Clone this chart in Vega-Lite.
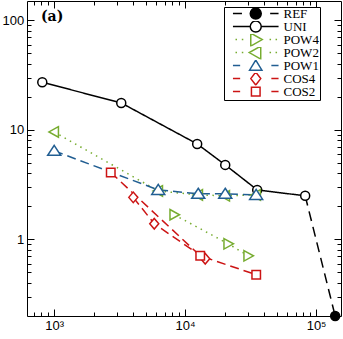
{
  "$schema": "https://vega.github.io/schema/vega-lite/v6.json",
  "width": 314,
  "height": 315,
  "autosize": {"type": "none"},
  "padding": {"left": 27, "top": 1, "right": 2, "bottom": 23},
  "background": "white",
  "config": {"view": {"stroke": null}},
  "title": {"text": "(a)", "anchor": "start", "frame": "group", "font": "DejaVu Serif", "fontWeight": "bold", "fontSize": 14, "baseline": "top", "dx": 14, "dy": 23, "offset": 0, "color": "black"},
  "data": {"values": [
    {"series": "REF", "n": 82560, "err": 2.50},
    {"series": "REF", "n": 139900, "err": 0.2},
    {"series": "UNI", "n": 811, "err": 27.2},
    {"series": "UNI", "n": 3252, "err": 17.6},
    {"series": "UNI", "n": 12360, "err": 7.44},
    {"series": "UNI", "n": 20240, "err": 4.79},
    {"series": "UNI", "n": 35520, "err": 2.83},
    {"series": "UNI", "n": 82560, "err": 2.50},
    {"series": "POW4", "n": 8256, "err": 1.68},
    {"series": "POW4", "n": 21330, "err": 0.912},
    {"series": "POW4", "n": 30310, "err": 0.709},
    {"series": "POW2", "n": 1000, "err": 9.57},
    {"series": "POW2", "n": 6232, "err": 2.77},
    {"series": "POW2", "n": 12590, "err": 2.55},
    {"series": "POW2", "n": 20240, "err": 2.50},
    {"series": "POW2", "n": 34860, "err": 2.55},
    {"series": "POW1", "n": 1000, "err": 6.43},
    {"series": "POW1", "n": 6232, "err": 2.83},
    {"series": "POW1", "n": 12590, "err": 2.61},
    {"series": "POW1", "n": 20240, "err": 2.61},
    {"series": "POW1", "n": 34860, "err": 2.55},
    {"series": "COS4", "n": 4017, "err": 2.42},
    {"series": "COS4", "n": 5810, "err": 1.39},
    {"series": "COS4", "n": 14240, "err": 0.666},
    {"series": "COS2", "n": 2704, "err": 4.09},
    {"series": "COS2", "n": 13040, "err": 0.709},
    {"series": "COS2", "n": 34900, "err": 0.476}
  ]},
  "layer": [
    {
      "mark": {"type": "line", "strokeWidth": 1.5},
      "encoding": {
        "x": {"field": "n", "type": "quantitative",
          "scale": {"type": "log", "domain": [620, 155000], "nice": false},
          "axis": {"orient": "bottom", "title": null, "grid": false,
            "values": [700, 800, 900, 1000, 2000, 3000, 4000, 5000, 6000, 7000, 8000, 9000, 10000, 20000, 30000, 40000, 50000, 60000, 70000, 80000, 90000, 100000],
            "labelExpr": "datum.value == 1000 ? '10³' : datum.value == 10000 ? '10⁴' : datum.value == 100000 ? '10⁵' : ''",
            "tickSize": {"condition": {"test": "indexof([1000, 10000, 100000], datum.value) >= 0", "value": -7}, "value": -4},
            "labelPadding": 10.5, "labelFont": "Liberation Sans", "labelFontSize": 13, "labelColor": "black",
            "tickColor": "black", "tickWidth": 1, "domainColor": "black", "domainWidth": 1,
            "labelOverlap": false, "labelFlush": false}},
        "y": {"field": "err", "type": "quantitative",
          "scale": {"type": "log", "domain": [0.2, 150], "nice": false},
          "axis": {"orient": "left", "title": null, "grid": false,
            "values": [0.3, 0.4, 0.5, 0.6, 0.7, 0.8, 0.9, 1, 2, 3, 4, 5, 6, 7, 8, 9, 10, 20, 30, 40, 50, 60, 70, 80, 90, 100],
            "labelExpr": "datum.value == 1 ? '1' : datum.value == 10 ? '10' : datum.value == 100 ? '100' : ''",
            "tickSize": {"condition": {"test": "indexof([1, 10, 100], datum.value) >= 0", "value": -7}, "value": -4},
            "labelPadding": 10.2, "labelFont": "Liberation Sans", "labelFontSize": 13, "labelColor": "black",
            "tickColor": "black", "tickWidth": 1, "domainColor": "black", "domainWidth": 1,
            "labelOverlap": false, "labelFlush": false}},
        "color": {"field": "series", "type": "nominal",
          "scale": {"domain": ["REF", "UNI", "POW4", "POW2", "POW1", "COS4", "COS2"],
            "range": ["#000000", "#000000", "#77AC30", "#77AC30", "#215E92", "#CC1414", "#CC1414"]},
          "legend": null},
        "strokeDash": {"field": "series", "type": "nominal",
          "scale": {"domain": ["REF", "UNI", "POW4", "POW2", "POW1", "COS4", "COS2"],
            "range": [[10, 6], [1, 0], [1.5, 4.5], [1.5, 4.5], [9, 5], [9, 5], [9, 5]]},
          "legend": null}
      }
    },
    {
      "transform": [{"filter": "datum.series != 'REF' || datum.n > 100000"}],
      "mark": {"type": "point", "size": 100, "strokeWidth": 1.5, "opacity": 1},
      "encoding": {
        "x": {"field": "n", "type": "quantitative",
          "axis": {"orient": "top", "title": null, "grid": false, "labels": false,
            "values": [700, 800, 900, 1000, 2000, 3000, 4000, 5000, 6000, 7000, 8000, 9000, 10000, 20000, 30000, 40000, 50000, 60000, 70000, 80000, 90000, 100000],
            "tickSize": {"condition": {"test": "indexof([1000, 10000, 100000], datum.value) >= 0", "value": -7}, "value": -4},
            "tickColor": "black", "tickWidth": 1, "domainColor": "black", "domainWidth": 1}},
        "y": {"field": "err", "type": "quantitative",
          "axis": {"orient": "right", "title": null, "grid": false, "labels": false,
            "values": [0.3, 0.4, 0.5, 0.6, 0.7, 0.8, 0.9, 1, 2, 3, 4, 5, 6, 7, 8, 9, 10, 20, 30, 40, 50, 60, 70, 80, 90, 100],
            "tickSize": {"condition": {"test": "indexof([1, 10, 100], datum.value) >= 0", "value": -7}, "value": -4},
            "tickColor": "black", "tickWidth": 1, "domainColor": "black", "domainWidth": 1}},
        "stroke": {"field": "series", "type": "nominal",
          "scale": {"domain": ["REF", "UNI", "POW4", "POW2", "POW1", "COS4", "COS2"],
            "range": ["#000000", "#000000", "#77AC30", "#77AC30", "#215E92", "#CC1414", "#CC1414"]},
          "legend": null},
        "fill": {"field": "series", "type": "nominal",
          "scale": {"domain": ["REF", "UNI", "POW4", "POW2", "POW1", "COS4", "COS2"],
            "range": ["#000000", "#ffffff", "#ffffff", "#ffffff", "#ffffff", "#ffffff", "#ffffff"]},
          "legend": null},
        "shape": {"field": "series", "type": "nominal",
          "scale": {"domain": ["REF", "UNI", "POW4", "POW2", "POW1", "COS4", "COS2"],
            "range": [
              "M-0.9,0C-0.9,-0.497,-0.497,-0.9,0,-0.9C0.497,-0.9,0.9,-0.497,0.9,0C0.9,0.497,0.497,0.9,0,0.9C-0.497,0.9,-0.9,0.497,-0.9,0Z",
              "M-0.9,0C-0.9,-0.497,-0.497,-0.9,0,-0.9C0.497,-0.9,0.9,-0.497,0.9,0C0.9,0.497,0.497,0.9,0,0.9C-0.497,0.9,-0.9,0.497,-0.9,0Z",
              "M-0.85,-1.05L1.05,0L-0.85,1.05Z",
              "M0.85,-1.05L-1.05,0L0.85,1.05Z",
              "M0,-1.1L1.3,0.9L-1.3,0.9Z",
              "M-0.9,0L0,-1.05L0.9,0L0,1.05Z",
              "M-0.85,-0.85L0.85,-0.85L0.85,0.85L-0.85,0.85Z"
            ]},
          "legend": null}
      }
    },
    {
      "transform": [{"filter": "false"}],
      "mark": {"type": "point", "strokeWidth": 1.5, "opacity": 1},
      "encoding": {
        "x": {"field": "n", "type": "quantitative", "axis": null},
        "y": {"field": "err", "type": "quantitative", "axis": null},
        "color": {"field": "series", "type": "nominal",
          "scale": {"domain": ["REF", "UNI", "POW4", "POW2", "POW1", "COS4", "COS2"],
            "range": ["#000000", "#000000", "#77AC30", "#77AC30", "#215E92", "#CC1414", "#CC1414"]},
          "legend": {"orient": "none", "legendX": 197, "legendY": 6, "title": null, "padding": 1, "rowPadding": -2, "clipHeight": 11.2,
            "symbolOffset": 23.75, "labelOffset": 20.75, "symbolSize": 144, "symbolStrokeWidth": 1.5, "symbolFillColor": "#ffffff",
            "labelFont": "Liberation Serif", "labelFontSize": 13, "labelColor": "black",
            "strokeColor": "black", "fillColor": "white", "labelExpr": "datum.label + '      '", "zindex": 1}},
        "fill": {"field": "series", "type": "nominal",
          "scale": {"domain": ["REF", "UNI", "POW4", "POW2", "POW1", "COS4", "COS2"],
            "range": ["#000000", "#ffffff", "#ffffff", "#ffffff", "#ffffff", "#ffffff", "#ffffff"]},
          "legend": {"orient": "none", "legendX": 197, "legendY": 6, "title": null, "padding": 1, "rowPadding": -2, "clipHeight": 11.2,
            "symbolOffset": 23.75, "labelOffset": 20.75, "symbolSize": 144, "symbolStrokeWidth": 1.5, "symbolFillColor": "#ffffff",
            "labelFont": "Liberation Serif", "labelFontSize": 13, "labelColor": "black",
            "strokeColor": "black", "fillColor": "white", "labelExpr": "datum.label + '      '", "zindex": 1}},
        "shape": {"field": "series", "type": "nominal",
          "scale": {"domain": ["REF", "UNI", "POW4", "POW2", "POW1", "COS4", "COS2"],
            "range": [
              "M-3.8,0L-2.3,0M2.4,0L3.8,0M-0.917,0C-0.917,-0.506,-0.506,-0.917,0,-0.917C0.506,-0.917,0.917,-0.506,0.917,0C0.917,0.506,0.506,0.917,0,0.917C-0.506,0.917,-0.917,0.506,-0.917,0Z",
              "M-3.8,0L-0.917,0M0.917,0L3.8,0M-0.917,0C-0.917,-0.506,-0.506,-0.917,0,-0.917C0.506,-0.917,0.917,-0.506,0.917,0C0.917,0.506,0.506,0.917,0,0.917C-0.506,0.917,-0.917,0.506,-0.917,0Z",
              "M-3.375,0L-3.125,0M-2.325,0L-2.075,0M2.3,0L2.55,0M3.3,0L3.55,0M-0.83,-1.08L1.08,0L-0.83,1.08Z",
              "M-3.375,0L-3.125,0M-2.325,0L-2.075,0M2.3,0L2.55,0M3.3,0L3.55,0M0.83,-1.08L-1.08,0L0.83,1.08Z",
              "M-3.8,0L-2.6,0M2.6,0L3.8,0M0,-0.92L1.03,0.77L-1.03,0.77Z",
              "M-3.8,0L-2.6,0M2.6,0L3.8,0M-0.83,0L0,-1.08L0.83,0L0,1.08Z",
              "M-3.8,0L-2.6,0M2.6,0L3.8,0M-0.72,-0.72L0.72,-0.72L0.72,0.72L-0.72,0.72Z"
            ]},
          "legend": {"orient": "none", "legendX": 197, "legendY": 6, "title": null, "padding": 1, "rowPadding": -2, "clipHeight": 11.2,
            "symbolOffset": 23.75, "labelOffset": 20.75, "symbolSize": 144, "symbolStrokeWidth": 1.5, "symbolFillColor": "#ffffff",
            "labelFont": "Liberation Serif", "labelFontSize": 13, "labelColor": "black",
            "strokeColor": "black", "fillColor": "white", "labelExpr": "datum.label + '      '", "zindex": 1}}
      }
    }
  ],
  "resolve": {
    "scale": {"color": "independent", "fill": "independent", "shape": "independent"},
    "axis": {"x": "independent", "y": "independent"}
  }
}
